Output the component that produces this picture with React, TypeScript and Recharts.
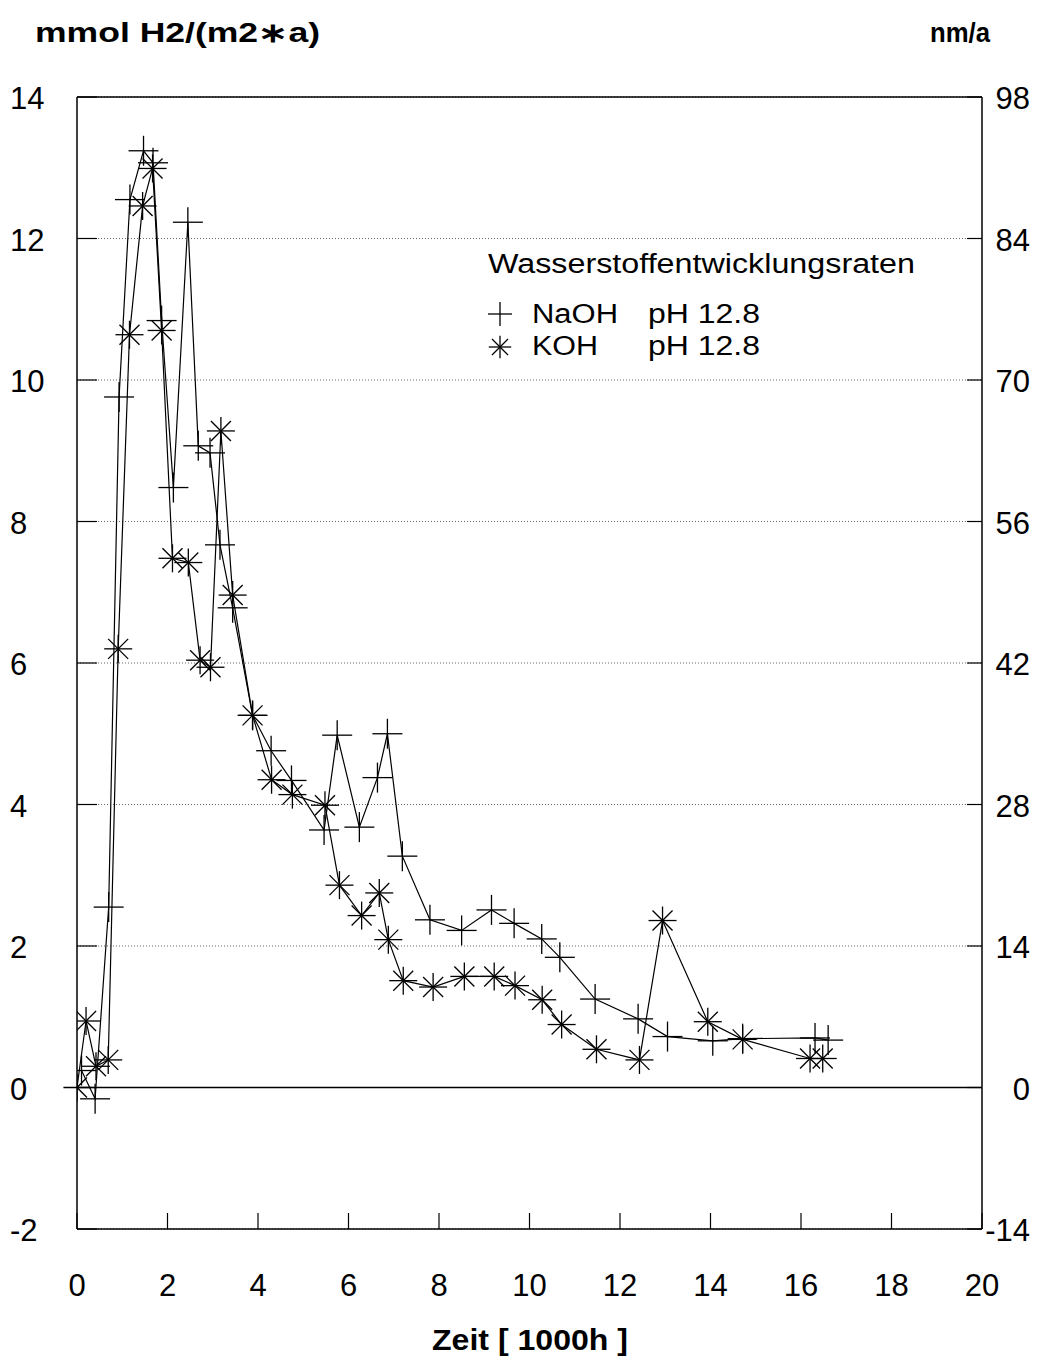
import React from "react";
import { LineChart, Line, XAxis, YAxis, CartesianGrid, ReferenceLine } from "recharts";

const FONT = "'Liberation Sans', Arial, Helvetica, sans-serif";

const xTicks = [0, 2, 4, 6, 8, 10, 12, 14, 16, 18, 20];
const leftTicks = [-2, 0, 2, 4, 6, 8, 10, 12, 14];
const rightTicks = [-14, 0, 14, 28, 42, 56, 70, 84, 98];

const naohX = [0.1, 0.4, 0.7, 0.93, 1.17, 1.47, 1.68, 1.87, 2.13, 2.45, 2.68, 2.94, 3.16, 3.44, 3.88, 4.29, 4.74, 5.46, 5.75, 6.24, 6.64, 6.86, 7.19, 7.8, 8.5, 9.16, 9.66, 10.27, 10.67, 11.45, 12.4, 13.05, 14.05, 14.71, 16.31, 16.6];
const naohY = [0.24, -0.16, 2.55, 9.76, 12.55, 13.24, 13.07, 10.84, 8.48, 12.23, 9.07, 8.97, 7.67, 6.78, 5.26, 4.76, 4.34, 3.64, 4.98, 3.68, 4.38, 5.0, 3.27, 2.37, 2.22, 2.51, 2.32, 2.1, 1.84, 1.25, 0.97, 0.72, 0.66, 0.69, 0.7, 0.67];

const kohX = [0, 0.2, 0.42, 0.69, 0.91, 1.16, 1.45, 1.67, 1.87, 2.11, 2.46, 2.72, 2.95, 3.18, 3.44, 3.88, 4.3, 4.76, 5.48, 5.8, 6.29, 6.68, 6.88, 7.21, 7.87, 8.56, 9.22, 9.68, 10.28, 10.71, 11.48, 12.43, 12.94, 13.94, 14.71, 16.2, 16.48];
const kohY = [0, 0.94, 0.3, 0.39, 6.2, 10.64, 12.46, 12.99, 10.7, 7.48, 7.42, 6.04, 5.94, 9.28, 6.96, 5.26, 4.35, 4.14, 3.99, 2.86, 2.43, 2.75, 2.09, 1.51, 1.42, 1.57, 1.57, 1.44, 1.24, 0.89, 0.54, 0.39, 2.36, 0.93, 0.68, 0.41, 0.41];

const naohData = naohX.map((x, i) => ({ x, y: naohY[i] }));
const kohData = kohX.map((x, i) => ({ x, y: kohY[i] }));

function PlusShape({ cx, cy, r = 15 }: { cx: number; cy: number; r?: number }) {
  return (
    <g stroke="#000" strokeWidth={1.3} fill="none">
      <line x1={cx - r} y1={cy} x2={cx + r} y2={cy} />
      <line x1={cx} y1={cy - r} x2={cx} y2={cy + r} />
    </g>
  );
}

function StarShape({ cx, cy, s = 1 }: { cx: number; cy: number; s?: number }) {
  const a = 14 * s;
  const d = 10 * s;
  return (
    <g stroke="#000" strokeWidth={1.3} fill="none">
      <line x1={cx - a} y1={cy} x2={cx + a} y2={cy} />
      <line x1={cx} y1={cy - a} x2={cx} y2={cy + a} />
      <line x1={cx - d} y1={cy - d} x2={cx + d} y2={cy + d} />
      <line x1={cx - d} y1={cy + d} x2={cx + d} y2={cy - d} />
    </g>
  );
}

const plusDot = (props: any) => (
  <PlusShape key={`p-${props.index}`} cx={props.cx} cy={props.cy} />
);
const starDot = (props: any) => (
  <StarShape key={`s-${props.index}`} cx={props.cx} cy={props.cy} />
);

const TICK_FS = 31;

function XTick(props: any) {
  const { x, y, payload } = props;
  return (
    <g>
      <line x1={x} y1={y} x2={x} y2={y - 16} stroke="#000" strokeWidth={1.2} />
      <text x={x} y={y + 67} textAnchor="middle" fontSize={TICK_FS} fontFamily={FONT} fill="#000">
        {payload.value}
      </text>
    </g>
  );
}

function LeftTick(props: any) {
  const { x, y, payload } = props;
  return (
    <g>
      <line x1={x} y1={y} x2={x + 20} y2={y} stroke="#000" strokeWidth={1.2} />
      <text x={x - 67} y={y + 12} textAnchor="start" fontSize={TICK_FS} fontFamily={FONT} fill="#000">
        {payload.value}
      </text>
    </g>
  );
}

function RightTick(props: any) {
  const { x, y, payload } = props;
  return (
    <g>
      <line x1={x} y1={y} x2={x - 15} y2={y} stroke="#000" strokeWidth={1.2} />
      <text x={x + 48} y={y + 12} textAnchor="end" fontSize={TICK_FS} fontFamily={FONT} fill="#000">
        {payload.value}
      </text>
    </g>
  );
}

export default function App() {
  return (
    <div style={{ position: "absolute", left: 0, top: 0, width: 1063, height: 1360, background: "#fff" }}>
      <LineChart width={1063} height={1360} margin={{ top: 97, right: 0, bottom: 0, left: 0 }}>
        <CartesianGrid
          yAxisId="left"
          vertical={false}
          stroke="#666"
          strokeDasharray="1 2"
          strokeWidth={1}
        />
        <XAxis
          type="number"
          dataKey="x"
          domain={[0, 20]}
          ticks={xTicks}
          height={131}
          axisLine={{ stroke: "#000", strokeWidth: 1.5 }}
          tickLine={false}
          tickSize={0}
          tickMargin={0}
          tick={<XTick />}
          allowDataOverflow
        />
        <YAxis
          yAxisId="left"
          orientation="left"
          type="number"
          domain={[-2, 14]}
          ticks={leftTicks}
          width={77}
          axisLine={{ stroke: "#000", strokeWidth: 1.5 }}
          tickLine={false}
          tickSize={0}
          tickMargin={0}
          tick={<LeftTick />}
          allowDataOverflow
        />
        <YAxis
          yAxisId="right"
          orientation="right"
          type="number"
          domain={[-14, 98]}
          ticks={rightTicks}
          width={81}
          axisLine={{ stroke: "#000", strokeWidth: 1.5 }}
          tickLine={false}
          tickSize={0}
          tickMargin={0}
          tick={<RightTick />}
          allowDataOverflow
        />
        <ReferenceLine yAxisId="left" y={14} stroke="#000" strokeWidth={1.5} />
        <ReferenceLine
          yAxisId="left"
          segment={[{ x: -0.3, y: 0 }, { x: 20, y: 0 }]}
          ifOverflow="visible"
          stroke="#000"
          strokeWidth={1.5}
        />
        <Line
          yAxisId="left"
          data={naohData}
          dataKey="y"
          type="linear"
          stroke="#000"
          strokeWidth={1.2}
          dot={plusDot}
          activeDot={false}
          isAnimationActive={false}
        />
        <Line
          yAxisId="left"
          data={kohData}
          dataKey="y"
          type="linear"
          stroke="#000"
          strokeWidth={1.2}
          dot={starDot}
          activeDot={false}
          isAnimationActive={false}
        />
      </LineChart>
      <svg
        width={1063}
        height={1360}
        style={{ position: "absolute", left: 0, top: 0, pointerEvents: "none" }}
        fontFamily={FONT}
      >
        <text x={35} y={42} fontSize={27} fontWeight="bold" fill="#000" textLength={285} lengthAdjust="spacingAndGlyphs">mmol H2/(m2∗a)</text>
        <text x={930} y={42} fontSize={27} fontWeight="bold" fill="#000" textLength={60} lengthAdjust="spacingAndGlyphs">nm/a</text>
        <text x={432} y={1350} fontSize={29} fontWeight="bold" fill="#000" textLength={196} lengthAdjust="spacingAndGlyphs">Zeit [ 1000h ]</text>
        <text x={488} y={273} fontSize={27} fill="#000" textLength={427} lengthAdjust="spacingAndGlyphs">Wasserstoffentwicklungsraten</text>
        <PlusShape cx={500} cy={314} r={12} />
        <text x={532} y={323} fontSize={27} fill="#000" textLength={86} lengthAdjust="spacingAndGlyphs">NaOH</text>
        <text x={648} y={323} fontSize={27} fill="#000" textLength={112} lengthAdjust="spacingAndGlyphs">pH 12.8</text>
        <StarShape cx={500} cy={347} s={0.8} />
        <text x={532} y={355} fontSize={27} fill="#000" textLength={66} lengthAdjust="spacingAndGlyphs">KOH</text>
        <text x={648} y={355} fontSize={27} fill="#000" textLength={112} lengthAdjust="spacingAndGlyphs">pH 12.8</text>
      </svg>
    </div>
  );
}
